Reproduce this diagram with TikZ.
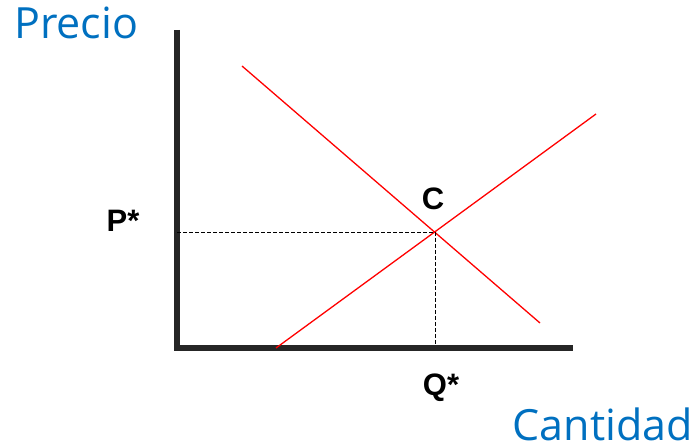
\documentclass[tikz,border=0pt]{standalone}
\usepackage{fontspec}
\setmainfont{Liberation Sans}
\newfontfamily\axisfont{Open Sans}
\usetikzlibrary{positioning,calc}
\definecolor{axisblue}{HTML}{0070C0}
\definecolor{axisgray}{HTML}{262626}
\tikzset{
  axisline/.style={line width=6pt, draw=axisgray},
  curveline/.style={red, line width=1.3pt},
  guideline/.style={black, line width=0.9pt, dash pattern=on 4pt off 2pt},
  axislabel/.style={font=\axisfont\fontsize{43}{48}\selectfont, text=axisblue, inner sep=0pt},
  pointlabel/.style={font=\bfseries\fontsize{31}{35}\selectfont, inner sep=0pt, anchor=base},
}
\begin{document}
\begin{tikzpicture}[x=1pt,y=-1pt]
  \useasboundingbox (0,0) rectangle (697,446);
  % ejes
  \coordinate (top) at (177,30);
  \coordinate (origin) at (177,348);
  \coordinate (right) at (573,348);
  \draw[axisline] (top) -- (origin) -- (right);
  % curvas de demanda y oferta
  \coordinate (dA) at (242,66);
  \coordinate (dB) at (540,323);
  \coordinate (sA) at (276,348);
  \coordinate (sB) at (596,114);
  \draw[curveline] (dA) -- (dB);
  \draw[curveline] (sA) -- (sB);
  % equilibrio
  \coordinate (eq) at (435,232);
  \coordinate (pstar) at (177,232);
  \coordinate (qstar) at (435,345);
  \draw[guideline] (pstar) -- (eq) -- (qstar);
  % textos
  \node[axislabel, anchor=base west] (precio) at (14,39) {Precio};
  \node[axislabel, anchor=base east] (cantidad) at (693,441) {Cantidad};
  \node[pointlabel] (plabel) at (123,232) {P*};
  \node[pointlabel] (qlabel) at (441,396) {Q*};
  \node[pointlabel] (clabel) at (433,210) {C};
\end{tikzpicture}
\end{document}
